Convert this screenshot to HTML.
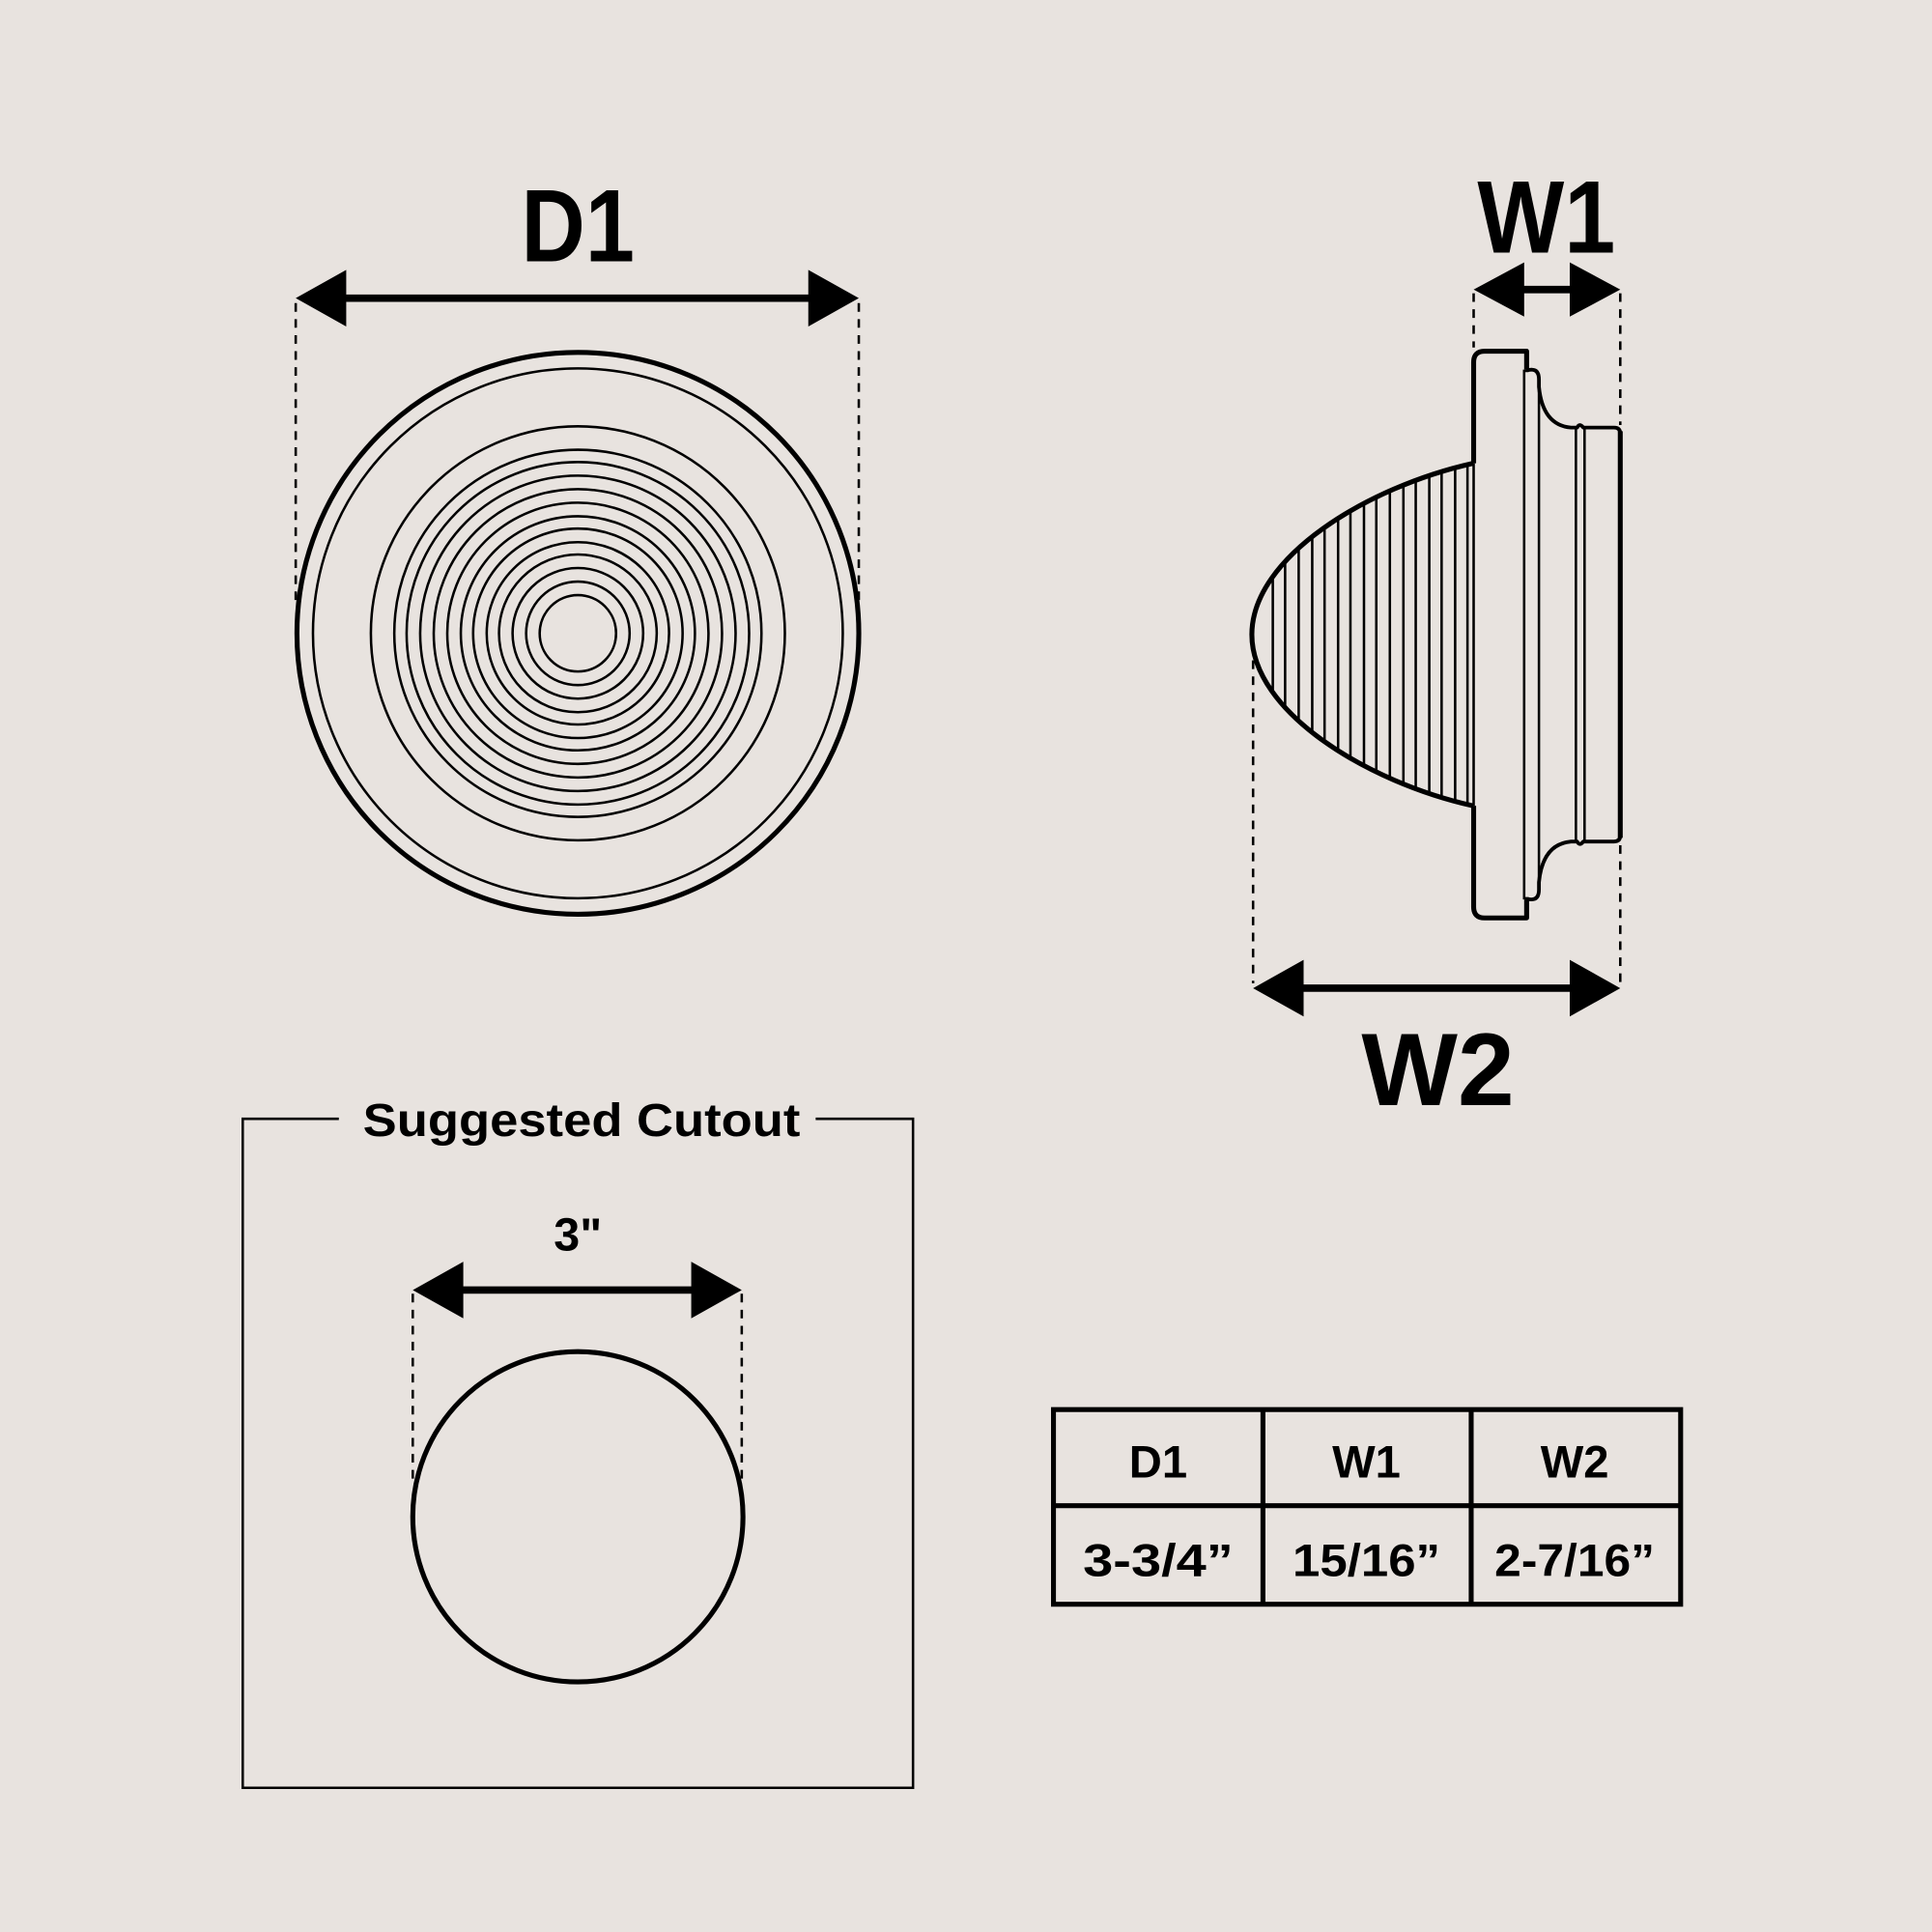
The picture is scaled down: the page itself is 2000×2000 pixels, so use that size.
<!DOCTYPE html>
<html><head><meta charset="utf-8"><style>
html,body{margin:0;padding:0;background:#e8e3df;}
svg{display:block}
text{font-family:"Liberation Sans",Arial,sans-serif;font-weight:bold;fill:#000}
</style></head><body>
<svg width="2000" height="2000" viewBox="0 0 1568 1568" xmlns="http://www.w3.org/2000/svg">
<rect width="1568" height="1568" fill="#e8e3df"/>
<defs>
<clipPath id="refl"><path d="M1195.6,376 C1110,395 1016,452 1016,515 C1016,578 1110,635 1195.6,654 Z"/></clipPath>
</defs>
<!-- D1 -->
<text x="469" y="212" font-size="84" text-anchor="middle" textLength="92" lengthAdjust="spacingAndGlyphs">D1</text>
<line x1="275" y1="242" x2="662" y2="242" stroke="#000" stroke-width="6"/>
<polygon points="240,242 281,219 281,265" fill="#000"/>
<polygon points="697,242 656,219 656,265" fill="#000"/>
<g stroke="#000" stroke-width="2" stroke-dasharray="7,6">
<line x1="240" y1="246" x2="240" y2="490"/>
<line x1="697" y1="246" x2="697" y2="490"/>
</g>
<g fill="none" stroke="#000">
<circle cx="469" cy="514" r="228" stroke-width="4"/>
<circle cx="469" cy="514" r="215" stroke-width="2"/>
<circle cx="469" cy="514" r="168" stroke-width="2"/>
<g stroke-width="2">
<circle cx="469" cy="514" r="149"/><circle cx="469" cy="514" r="139"/>
<circle cx="469" cy="514" r="128"/><circle cx="469" cy="514" r="117"/>
<circle cx="469" cy="514" r="106"/><circle cx="469" cy="514" r="95"/>
<circle cx="469" cy="514" r="85"/><circle cx="469" cy="514" r="74"/>
<circle cx="469" cy="514" r="64"/><circle cx="469" cy="514" r="53"/>
<circle cx="469" cy="514" r="42"/><circle cx="469" cy="514" r="31"/>
</g>
</g>
<!-- W1 -->
<text x="1255" y="205" font-size="84" text-anchor="middle" textLength="112" lengthAdjust="spacingAndGlyphs">W1</text>
<line x1="1225" y1="235" x2="1285" y2="235" stroke="#000" stroke-width="6"/>
<polygon points="1196,235 1237,213 1237,257" fill="#000"/>
<polygon points="1315,235 1274,213 1274,257" fill="#000"/>
<!-- W2 -->
<text x="1167" y="897" font-size="84" text-anchor="middle" textLength="124" lengthAdjust="spacingAndGlyphs">W2</text>
<line x1="1050" y1="802" x2="1280" y2="802" stroke="#000" stroke-width="6"/>
<polygon points="1017,802 1058,779 1058,825" fill="#000"/>
<polygon points="1315,802 1274,779 1274,825" fill="#000"/>
<g stroke="#000" stroke-width="2" stroke-dasharray="7,6">
<line x1="1196" y1="238" x2="1196" y2="282"/>
<line x1="1315" y1="238" x2="1315" y2="345"/>
<line x1="1315" y1="686" x2="1315" y2="798"/>
<line x1="1017" y1="536" x2="1017" y2="798"/>
</g>
<!-- side view -->
<g clip-path="url(#refl)" stroke="#000" stroke-width="2">
<line x1="1033" y1="370" x2="1033" y2="660"/><line x1="1043" y1="370" x2="1043" y2="660"/>
<line x1="1054" y1="370" x2="1054" y2="660"/><line x1="1065" y1="370" x2="1065" y2="660"/>
<line x1="1075" y1="370" x2="1075" y2="660"/><line x1="1086" y1="370" x2="1086" y2="660"/>
<line x1="1096" y1="370" x2="1096" y2="660"/><line x1="1107" y1="370" x2="1107" y2="660"/>
<line x1="1117" y1="370" x2="1117" y2="660"/><line x1="1128" y1="370" x2="1128" y2="660"/>
<line x1="1139" y1="370" x2="1139" y2="660"/><line x1="1149" y1="370" x2="1149" y2="660"/>
<line x1="1160" y1="370" x2="1160" y2="660"/><line x1="1170" y1="370" x2="1170" y2="660"/>
<line x1="1181" y1="370" x2="1181" y2="660"/><line x1="1191" y1="370" x2="1191" y2="660"/>
</g>
<path d="M1195.6,376 C1110,395 1016,452 1016,515 C1016,578 1110,635 1195.6,654" fill="none" stroke="#000" stroke-width="4"/>
<g fill="none" stroke="#000" stroke-linejoin="round">
<path d="M1196,376 L1196,294 Q1196,285 1205,285 L1239,285 L1239,300" stroke-width="4"/>
<path d="M1196,654 L1196,736 Q1196,745 1205,745 L1239,745 L1239,730" stroke-width="4"/>
<line x1="1196" y1="376" x2="1196" y2="654" stroke-width="2"/>
<line x1="1237" y1="300" x2="1237" y2="730" stroke-width="2"/>
<path d="M1239,302 Q1239,300 1243,300 Q1249,300 1249,308 L1249,314 Q1252,345 1275,347 L1280,347 Q1282,343 1285,347 L1310,347 Q1315,347 1315,352 L1315,678 Q1315,683 1310,683 L1285,683 Q1282,687 1280,683 L1275,683 Q1252,685 1249,716 L1249,722 Q1249,730 1243,730 Q1239,730 1239,728" stroke-width="3"/>
<line x1="1249" y1="314" x2="1249" y2="716" stroke-width="2"/>
<line x1="1279" y1="347" x2="1279" y2="683" stroke-width="2"/>
<line x1="1286" y1="347" x2="1286" y2="683" stroke-width="2"/>
<line x1="1315" y1="350" x2="1315" y2="680" stroke-width="4"/>
</g>
<!-- cutout -->
<path d="M275,908 L197,908 L197,1451 L741,1451 L741,908 L662,908" fill="none" stroke="#000" stroke-width="2"/>
<text x="472" y="922" font-size="38" text-anchor="middle" textLength="355" lengthAdjust="spacingAndGlyphs">Suggested Cutout</text>
<text x="469" y="1015" font-size="38" text-anchor="middle">3"</text>
<line x1="365" y1="1047" x2="572" y2="1047" stroke="#000" stroke-width="6"/>
<polygon points="335,1047 376,1024 376,1070" fill="#000"/>
<polygon points="602,1047 561,1024 561,1070" fill="#000"/>
<g stroke="#000" stroke-width="2" stroke-dasharray="7,6">
<line x1="335" y1="1050" x2="335" y2="1205"/>
<line x1="602" y1="1050" x2="602" y2="1205"/>
</g>
<circle cx="469" cy="1231" r="134" fill="none" stroke="#000" stroke-width="4"/>
<!-- table -->
<g fill="none" stroke="#000" stroke-width="4">
<rect x="855" y="1144" width="509" height="158"/>
<line x1="1025" y1="1144" x2="1025" y2="1302"/>
<line x1="1194" y1="1144" x2="1194" y2="1302"/>
<line x1="855" y1="1222" x2="1364" y2="1222"/>
</g>
<g font-size="37" text-anchor="middle">
<text x="940" y="1199">D1</text>
<text x="1109" y="1199">W1</text>
<text x="1278" y="1199">W2</text>
<text x="940" y="1279" textLength="122" lengthAdjust="spacingAndGlyphs">3-3/4”</text>
<text x="1109" y="1279" textLength="120" lengthAdjust="spacingAndGlyphs">15/16”</text>
<text x="1278" y="1279" textLength="130" lengthAdjust="spacingAndGlyphs">2-7/16”</text>
</g>
</svg>
</body></html>
